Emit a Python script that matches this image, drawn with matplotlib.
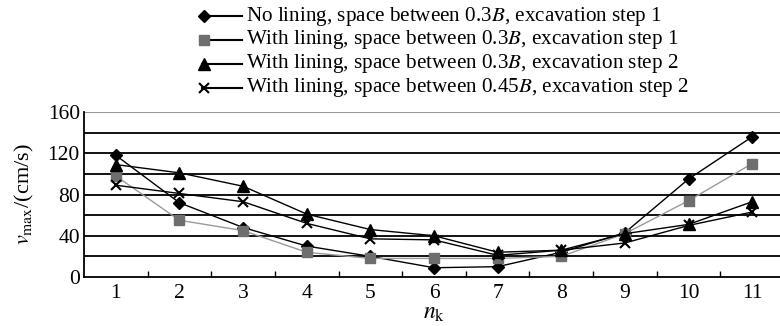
import numpy as np
import matplotlib
matplotlib.use("Agg")
import matplotlib.pyplot as plt
from matplotlib.lines import Line2D

plt.rcParams['font.family'] = ['Liberation Serif', 'DejaVu Serif']
plt.rcParams['mathtext.fontset'] = 'stix'

nk = np.arange(1, 12)
no_lining_03_s1 = [118, 72, 48, 30, 20, 9, 10, 24, 43, 95, 136]
lining_03_s1 = [98, 55, 45, 24, 18, 18, 18, 20, 42, 74, 110]
lining_03_s2 = [109, 101, 88, 61, 46, 40, 24, 26, 42, 51, 73]
lining_045_s2 = [89, 81, 73, 52, 37, 36, 21, 26, 33, 50, 63]

labels = [
    "No lining, space between 0.3$B$, excavation step 1",
    "With lining, space between 0.3$B$, excavation step 1",
    "With lining, space between 0.3$B$, excavation step 2",
    "With lining, space between 0.45$B$, excavation step 2",
]
series = [no_lining_03_s1, lining_03_s1, lining_03_s2, lining_045_s2]
styles = [
    dict(color='black', marker='D', ms=6.5, mfc='black', mec='black'),
    dict(color='#9a9a9a', marker='s', ms=7, mfc='#6e6e6e', mec='#6e6e6e'),
    dict(color='black', marker='^', ms=8, mfc='black', mec='black'),
    dict(color='black', marker='x', ms=7, mew=1.5, mfc='black', mec='black'),
]

fig = plt.figure(figsize=(7.8, 3.26), dpi=100)
ax = fig.add_axes([84 / 780, 1 - 277 / 326, 700 / 780, 165 / 326])

for y in range(20, 160, 20):
    ax.axhline(y, color='black', lw=1.3, zorder=1)
ax.axhline(160, color='#999999', lw=0.8, zorder=1)

for vals, st in zip(series, styles):
    ax.plot(nk, vals, lw=1.0, zorder=3, **st)

ax.set_xlim(0.5, 11.5)
ax.set_ylim(0, 160)
ax.set_yticks([0, 40, 80, 120, 160])
ax.set_xticks(nk)
ax.set_xticks(np.arange(1.5, 11.5, 1), minor=True)
ax.tick_params(axis='x', which='major', length=0, labelsize=15.5, pad=5)
ax.tick_params(axis='x', which='minor', direction='in', length=4, width=1)
ax.tick_params(axis='y', length=0, labelsize=15.5, pad=3)
for s in ['top', 'right']:
    ax.spines[s].set_visible(False)
for s in ['left', 'bottom']:
    ax.spines[s].set_linewidth(1.3)

ax.set_ylabel(r"$v_{\mathrm{max}}$/(cm/s)", fontsize=16, labelpad=8)
ax.set_xlabel(r"$n_{\mathrm{k}}$", fontsize=17, labelpad=0)

# legend with marker at the left end of each sample line
row_y = [16, 39.5, 63.5, 87.5]
for lab, st, ry in zip(labels, styles, row_y):
    yf = 1 - ry / 326
    fig.add_artist(Line2D([202 / 780, 242 / 780], [yf, yf], color='black',
                          lw=1.5, transform=fig.transFigure))
    mst = {k: v for k, v in st.items() if k != 'color'}
    fig.add_artist(Line2D([204 / 780], [yf], linestyle='none',
                          transform=fig.transFigure, **mst))
    fig.text(246 / 780, yf, lab, fontsize=15.2, va='center', ha='left')

fig.savefig('out.png', dpi=100)
